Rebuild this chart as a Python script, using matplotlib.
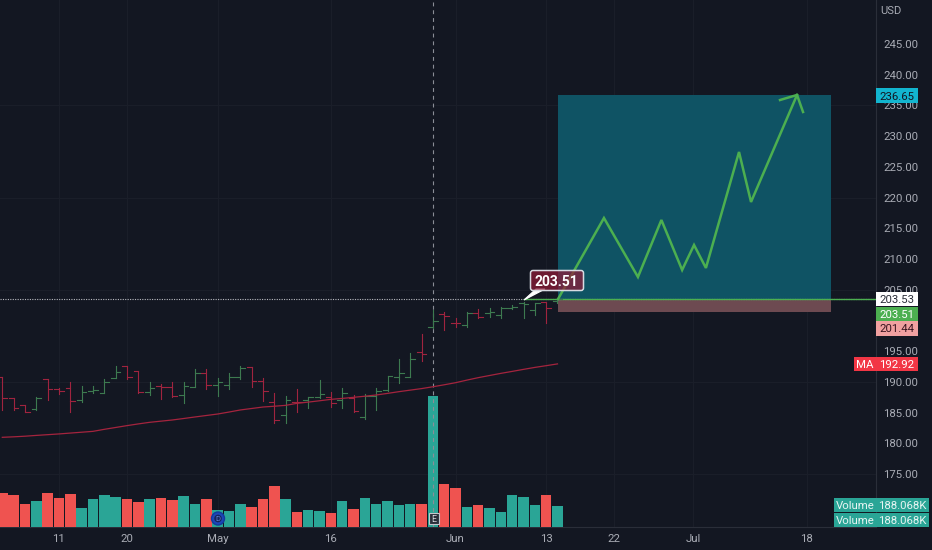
import matplotlib
matplotlib.use("Agg")
import matplotlib.pyplot as plt
from matplotlib.patches import Rectangle, FancyBboxPatch, Polygon, Circle

plt.rcParams['font.family'] = ['Roboto', 'DejaVu Sans']

opens = [190.85,187.32,186.24,185.53,190.47,188.79,188.95,187.05,188.57,188.24,190.69,192.64,191.77,188.30,
         189.39,189.11,187.87,189.22,191.39,189.55,189.49,190.74,192.37,190.20,186.78,184.60,
         186.67,187.05,187.48,187.59,187.05,187.43,184.33,187.75,188.68,190.74,190.85,194.81,
         198.88,201.05,199.64,199.26,201.16,201.16,200.88,202.08,202.78,201.70,202.95,203.16]
highs = [190.85,187.32,186.24,187.59,190.47,188.95,190.03,189.38,189.38,190.47,192.64,192.64,191.83,189.93,
         189.60,190.03,190.03,192.10,192.10,190.58,191.39,192.64,192.48,190.69,188.14,187.76,
         188.84,187.59,190.30,188.30,188.95,187.86,188.02,188.95,191.01,193.67,194.64,197.74,
         201.70,201.43,200.34,201.32,201.86,201.97,202.13,202.51,203.05,202.78,203.05,203.60]
lows = [185.42,185.42,185.04,185.42,187.05,187.97,185.15,186.78,188.14,188.14,190.58,190.47,188.24,187.87,
        187.16,187.60,186.62,189.11,188.84,187.76,188.79,190.47,189.22,186.94,183.25,183.36,
        185.15,185.80,187.43,185.96,185.80,185.15,183.96,185.42,188.51,189.76,190.85,193.40,
        198.71,198.44,198.99,198.99,200.34,200.61,200.34,201.86,200.34,200.88,199.53,202.78]
closes = [187.32,185.69,185.15,187.43,188.84,188.57,186.94,188.41,188.68,190.03,191.55,190.85,188.41,189.06,
          189.11,187.70,189.33,191.39,189.44,189.93,190.85,192.31,190.20,188.52,183.80,187.05,
          186.67,187.48,188.02,186.50,188.13,185.26,187.75,188.57,190.95,191.39,193.67,194.48,
          199.96,200.72,199.64,201.16,200.61,201.32,202.08,202.24,202.67,202.78,202.08,203.51]
up = [0,0,0,1,0,0,0,1,1,1,1,0,0,1,0,0,1,1,0,1,1,1,0,0,0,1,0,1,1,0,1,0,1,1,1,1,1,0,1,0,0,1,0,1,1,1,1,1,0,1]
volumes = [300,285,206,232,297,256,291,168,244,279,262,250,218,244,256,238,273,200,250,147,138,200,173,244,365,244,
           135,153,141,123,226,159,256,200,232,191,200,200,1158,379,347,176,194,171,129,285,262,191,279,188.068]
ma = [180.97,181.05,181.15,181.28,181.40,181.52,181.66,181.80,181.94,182.27,182.57,182.87,183.15,183.41,183.60,
      183.79,184.03,184.28,184.52,184.76,185.08,185.42,185.66,185.90,186.03,186.17,186.50,186.70,186.92,187.15,
      187.30,187.48,187.66,187.86,188.12,188.40,188.65,188.90,189.20,189.52,189.86,190.28,190.68,191.03,191.38,
      191.70,192.03,192.35,192.63,192.92]
path_x = [49.05,53.1,56.1,58.17,60.0,61.05,62.1,65.02,66.08,70.14]
path_y = [203.49,216.67,207.07,216.35,208.21,212.28,208.54,227.42,219.28,236.7]
head_x = [68.64,70.14,70.67]
head_y = [235.88,236.7,233.93]
entry, target, stop = 203.53, 236.65, 201.44
x_ticks = [5,11,19,29,40,48,54,61,71]
x_labels = ['11','20','May','16','Jun','13','22','Jul','18']
y_ticks = [175,180,185,190,195,205,210,215,220,225,230,235,240,245]
h_grid = [175,190,205,220,235]

BG, GRID, AX, TXT = '#131722', '#1a1e29', '#2a2e39', '#a9acb5'
UP, DOWN, VUP, VDOWN = '#3d7a50', '#a0243f', '#2aa596', '#ef5350'
W, H = 932, 550
fig = plt.figure(figsize=(9.32, 5.5), dpi=100, facecolor=BG)
pos = [0, 23/H, 876/W, 527/H]
ax = fig.add_axes(pos, facecolor=BG)
ax.set_xlim(-0.203, 77.11)
ax.set_ylim(166.37, 252.16)
ax.set_xticks(x_ticks, x_labels)
ax.set_yticks(y_ticks, [f'{v:.2f}' for v in y_ticks])
ax.yaxis.tick_right()
ax.tick_params(axis='both', length=0, colors=TXT, labelsize=8.2)
ax.tick_params(axis='y', pad=5)
ax.tick_params(axis='x', pad=5)
for s in ('top', 'left'):
    ax.spines[s].set_visible(False)
for s in ('right', 'bottom'):
    ax.spines[s].set_color(AX)
    ax.spines[s].set_linewidth(0.8)
for v in h_grid:
    ax.axhline(v, color=GRID, lw=0.8, zorder=0)
for v in x_ticks:
    ax.axvline(v, color=GRID, lw=0.8, zorder=0)

vax = fig.add_axes(pos, facecolor='none')
vax.set_xlim(ax.get_xlim())
vax.set_ylim(0, 4648)
vax.axis('off')
idx = list(range(len(closes)))
vax.bar(idx, volumes, width=0.93, color=[VUP if u else VDOWN for u in up], zorder=2)

pax = fig.add_axes(pos, facecolor='none')
pax.set_xlim(ax.get_xlim())
pax.set_ylim(ax.get_ylim())
pax.axis('off')
pax.add_patch(Rectangle((49.05, entry), 24.05, target-entry, fc='#0f5364', ec='none', zorder=1))
pax.add_patch(Rectangle((49.05, stop), 24.05, entry-stop, fc='#6d4a51', ec='none', zorder=1))
pax.axvline(38, color='#8b8e97', lw=0.8, dashes=(3.5, 3.5), zorder=2)
pax.axhline(entry, color='#b8bac0', lw=0.8, dashes=(1, 1.2), zorder=2)
pax.plot([46, 77.11], [entry, entry], color='#4caf50', lw=1.0, zorder=3)
for i in idx:
    c = UP if up[i] else DOWN
    pax.plot([i, i], [lows[i], highs[i]], color=c, lw=0.8, zorder=4)
    pax.plot([i-0.42, i], [opens[i], opens[i]], color=c, lw=0.8, zorder=4)
    pax.plot([i, i+0.42], [closes[i], closes[i]], color=c, lw=0.8, zorder=4)
pax.plot(idx, ma, color='#a5243e', lw=0.9, zorder=5)
pax.plot(path_x, path_y, color='#4caf50', lw=1.8, zorder=6, solid_joinstyle='miter')
pax.plot(head_x, head_y, color='#4caf50', lw=1.8, zorder=6, solid_joinstyle='miter')

ov = fig.add_axes([0, 0, 1, 1], facecolor='none')
ov.set_xlim(0, W)
ov.set_ylim(H, 0)
ov.axis('off')

def tag(x0, x1, y0, y1, fc, label, tc, size=8.2):
    ov.add_patch(Rectangle((x0, y0), x1-x0, y1-y0, fc=fc, ec='none', zorder=8))
    ov.text((x0+x1)/2, (y0+y1)/2, label, color=tc, fontsize=size, ha='center', va='center_baseline', zorder=9)

ov.text(891, 10, 'USD', color=TXT, fontsize=8, ha='center', va='center_baseline')
tag(876, 918, 88, 103, '#12b5cf', f'{target:.2f}', '#131722')
tag(876, 918, 292, 306, '#ffffff', f'{entry:.2f}', '#2a2e39')
tag(876, 918, 306.5, 321, '#4caf50', f'{closes[-1]:.2f}', '#ffffff')
tag(876, 918, 321, 336, '#f0a0a0', f'{stop:.2f}', '#3a1420')
tag(854, 876, 357, 371, '#f23645', 'MA', '#ffffff')
tag(876, 918, 357, 371, '#f23645', f'{ma[-1]:.2f}', '#ffffff')
for y0 in (498, 512.5):
    tag(834, 876, y0, y0+14, VUP, 'Volume', '#e8f5f3')
    tag(876, 929, y0, y0+14, VUP, f'{volumes[-1]:.3f}K', '#e8f5f3')

ov.add_patch(Polygon([(524, 300), (536, 289), (545, 289)], fc='#ffffff', ec='#ffffff', lw=0.8, zorder=10))
ov.add_patch(FancyBboxPatch((532, 272), 50, 17, boxstyle='round,pad=1.5,rounding_size=2.5',
                            fc=(0.56, 0.11, 0.22, 0.72), ec='#d8dbe2', lw=1.1, zorder=11))
ov.text(556.5, 280.5, f'{closes[-1]:.2f}', color='white', fontsize=10, fontweight='bold',
        ha='center', va='center_baseline', zorder=12)

ov.add_patch(Circle((218, 518.5), 6.5, fc='#1c46b8', ec='#123a9c', lw=1, zorder=10))
ov.add_patch(Circle((218, 518.5), 3.8, fc='#16245a', ec='none', zorder=10))
ov.text(218, 518.5, 'D', color='#5d7fd8', fontsize=5.5, ha='center', va='center_baseline', zorder=11)
ov.add_patch(Rectangle((428.5, 513), 10.5, 11, fc='#2b2f3a', ec='#c4c6cc', lw=0.8, zorder=10))
ov.text(433.7, 518.7, 'E', color='#d6d8dd', fontsize=6.3, ha='center', va='center_baseline', zorder=11)

fig.savefig('out.png', dpi=100, facecolor=BG)
